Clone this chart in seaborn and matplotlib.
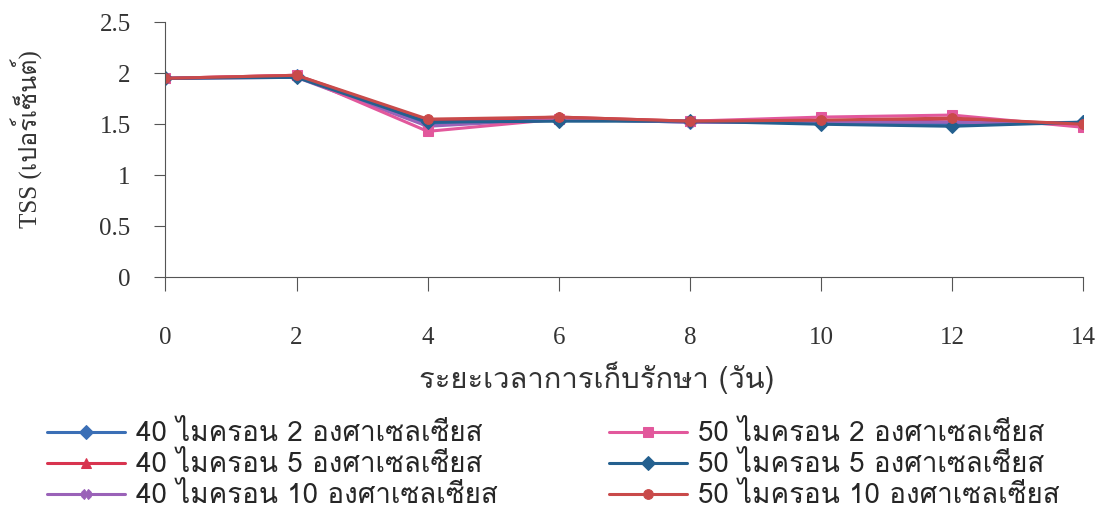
import matplotlib
matplotlib.use("Agg")
import matplotlib.pyplot as plt
from matplotlib import font_manager
from matplotlib.ft2font import FT2Font
import seaborn as sns
import pandas as pd

days = [0, 2, 4, 6, 8, 10, 12, 14]
s40_2 = [1.95, 1.97, 1.50, 1.55, 1.52, 1.52, 1.50, 1.52]
s40_5 = [1.95, 1.98, 1.53, 1.57, 1.53, 1.53, 1.55, 1.50]
s40_10 = [1.95, 1.96, 1.48, 1.55, 1.52, 1.52, 1.52, 1.50]
s50_2 = [1.95, 1.98, 1.43, 1.55, 1.53, 1.57, 1.59, 1.47]
s50_5 = [1.95, 1.96, 1.52, 1.53, 1.53, 1.50, 1.48, 1.52]
s50_10 = [1.95, 1.98, 1.55, 1.57, 1.53, 1.54, 1.56, 1.50]

labels = ["40 ไมครอน 2 องศาเซลเซียส", "40 ไมครอน 5 องศาเซลเซียส",
          "40 ไมครอน 10 องศาเซลเซียส", "50 ไมครอน 2 องศาเซลเซียส",
          "50 ไมครอน 5 องศาเซลเซียส", "50 ไมครอน 10 องศาเซลเซียส"]
colors = ["#3b6fb6", "#d8344f", "#9a62b8", "#e2589c", "#24608f", "#c94a4a"]
markers = ["D", "^", "X", "s", "D", "o"]


def thai_font():
    # look for any installed font that has Thai glyphs
    for f in font_manager.fontManager.ttflist:
        try:
            if 0x0E44 in FT2Font(f.fname).get_charmap():
                return f.name
        except Exception:
            pass
    return "DejaVu Sans"


sns.set_style("white")
thai = thai_font()
plt.rcParams["font.family"] = ["Liberation Serif", thai, "DejaVu Sans"]

df = pd.DataFrame({"day": days * 6,
                   "tss": s40_2 + s40_5 + s40_10 + s50_2 + s50_5 + s50_10,
                   "group": [l for l in labels for _ in days]})

fig = plt.figure(figsize=(11.03, 5.30), dpi=100)
ax = fig.add_axes([0.150, 0.477, 0.832, 0.481])

for lab, c, m in zip(labels, colors, markers):
    sns.lineplot(data=df[df.group == lab], x="day", y="tss", color=c,
                 marker=m, markersize=7, markeredgecolor=c, linewidth=2.2,
                 label=lab, ax=ax)

ax.set_xlim(0, 14)
ax.set_ylim(0, 2.5)
ax.set_xticks(days)
ax.set_yticks([0, 0.5, 1, 1.5, 2, 2.5])
ax.set_yticklabels(["0", "0.5", "1", "1.5", "2", "2.5"])
for sp in ["top", "right"]:
    ax.spines[sp].set_visible(False)
for sp in ["left", "bottom"]:
    ax.spines[sp].set_color("#555555")
ax.tick_params(axis="x", direction="out", length=10, color="#555555",
               pad=26, labelsize=18, labelcolor="#333333", bottom=True)
ax.tick_params(axis="y", direction="out", length=8, color="#555555",
               pad=17, labelsize=18, labelcolor="#333333", left=True)
ax.set_xlabel("ระยะเวลาการเก็บรักษา (วัน)", fontsize=21, color="#333333",
              family=[thai, "Liberation Serif"])
ax.xaxis.set_label_coords(0.47, -0.33)
ax.set_ylabel("TSS (เปอร์เซ็นต์)", fontsize=18, color="#333333",
              family=["Liberation Serif", thai])
ax.yaxis.set_label_coords(-0.135, 0.54)
ax.get_legend().remove()

h, l = ax.get_legend_handles_labels()
fig.legend(h, l, loc="lower left", bbox_to_anchor=(0.02, -0.008), ncol=2,
           frameon=False, handlelength=2.8, handletextpad=0.4,
           columnspacing=4.0, labelspacing=0.18,
           prop={"family": [thai, "Liberation Serif"], "size": 20})

fig.savefig("out.png", dpi=100, facecolor="white")
